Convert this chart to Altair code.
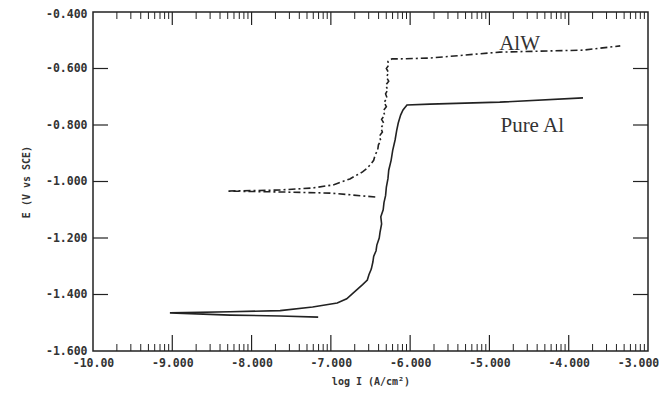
import math
import altair as alt
import pandas as pd

# ---------------- data ----------------
x_ticks = [-10, -9, -8, -7, -6, -5, -4, -3]
y_ticks = [-1.6, -1.4, -1.2, -1.0, -0.8, -0.6, -0.4]

# Pure Al (solid): cathodic cusp on the left, then rising anodic branch
al_logi = [-7.16, -7.64, -8.27, -9.03, -8.27, -7.64, -7.23,
           -6.92, -6.80, -6.72, -6.66, -6.60, -6.54, -6.52, -6.49, -6.47, -6.46,
           -6.43, -6.42, -6.39, -6.38, -6.36, -6.37, -6.34, -6.33, -6.31, -6.30,
           -6.28, -6.27, -6.24, -6.22, -6.19, -6.17, -6.15, -6.12, -6.09, -6.04,
           -5.75, -4.87, -3.82]
al_e = [-1.480, -1.476, -1.473, -1.465, -1.461, -1.457, -1.444,
        -1.430, -1.415, -1.395, -1.380, -1.365, -1.349, -1.330, -1.310, -1.285, -1.265,
        -1.245, -1.225, -1.200, -1.180, -1.150, -1.125, -1.100, -1.075, -1.050, -1.020,
        -0.990, -0.960, -0.925, -0.890, -0.853, -0.820, -0.793, -0.765, -0.747, -0.729,
        -0.726, -0.719, -0.704]

# AlW (dash-dot)
alw_logi = [-6.44, -6.72, -7.01, -7.64, -8.31, -7.64, -7.23, -6.97,
            -6.76, -6.66, -6.60, -6.55, -6.50, -6.46, -6.44, -6.41, -6.40, -6.37,
            -6.39, -6.35, -6.37, -6.33, -6.36, -6.32, -6.34, -6.30, -6.33, -6.29,
            -6.31, -6.28, -6.31, -6.27, -6.30, -6.27, -6.30, -6.27, -6.28, -6.23,
            -6.13, -5.75, -4.87, -3.82, -3.35]
alw_e = [-1.055, -1.048, -1.041, -1.037, -1.034, -1.030, -1.023, -1.012,
         -0.991, -0.975, -0.966, -0.955, -0.940, -0.925, -0.905, -0.890, -0.870, -0.855,
         -0.840, -0.825, -0.810, -0.795, -0.780, -0.765, -0.750, -0.735, -0.720, -0.705,
         -0.690, -0.675, -0.660, -0.645, -0.630, -0.615, -0.600, -0.588, -0.575, -0.566,
         -0.566, -0.563, -0.542, -0.535, -0.520]

labels = ["AlW", "Pure Al"]
label_logi = [-4.62, -4.46]
label_e = [-0.513, -0.804]

# ---------------- chart ----------------
W, H = 555, 339
INK = "#222222"
LAB = "#333333"
MONO = "DejaVu Sans Mono"

xscale = alt.Scale(domain=[-10, -3], nice=False, zero=False)
yscale = alt.Scale(domain=[-1.6, -0.4], nice=False, zero=False)

al_df = pd.DataFrame({"logI": al_logi, "E": al_e, "i": list(range(len(al_logi)))})
alw_df = pd.DataFrame({"logI": alw_logi, "E": alw_e, "i": list(range(len(alw_logi)))})
lab_df = pd.DataFrame({"t": labels, "logI": label_logi, "E": label_e})

minor_x = [d + math.log10(k) for d in range(-10, -3) for k in range(2, 10)]
major_x = x_ticks[1:-1]
major_y = y_ticks[1:-1]
minor_df = pd.DataFrame({"logI": minor_x})
majx_df = pd.DataFrame({"logI": major_x})
majy_df = pd.DataFrame({"E": major_y})

xaxis = alt.Axis(
    values=x_ticks,
    labelExpr="datum.value == -10 ? '-10.00' : '-' + format(abs(datum.value), '.3f')",
    ticks=False, domain=False, grid=False,
    labelFont=MONO, labelFontSize=11.5, labelFontWeight="bold", labelColor=LAB,
    labelPadding=6, labelFlush=False,
    labelOffset={"condition": {"test": "datum.value == -3", "value": -10}, "value": 0},
    title="log I (A/cm²)", titleFont=MONO, titleFontSize=10, titleFontWeight="bold",
    titleColor=LAB, titlePadding=8,
)
yaxis = alt.Axis(
    values=y_ticks,
    labelExpr="'-' + format(abs(datum.value), '.3f')",
    ticks=False, domain=False, grid=False,
    labelFont=MONO, labelFontSize=11.5, labelFontWeight="bold", labelColor=LAB,
    labelPadding=6, labelFlush=False,
    labelOffset={"condition": {"test": "datum.value == -0.4", "value": 2}, "value": 0},
    title="E (V vs SCE)", titleFont=MONO, titleFontSize=10, titleFontWeight="bold",
    titleColor=LAB, titlePadding=14,
)

X = alt.X("logI:Q", scale=xscale, axis=xaxis)
Y = alt.Y("E:Q", scale=yscale, axis=yaxis)

al_line = alt.Chart(al_df).mark_line(color=INK, strokeWidth=1.6).encode(
    x=X, y=Y, order="i:Q")
alw_line = alt.Chart(alw_df).mark_line(color=INK, strokeWidth=1.6, strokeDash=[7, 3, 2, 3]).encode(
    x=X, y=Y, order="i:Q")
texts = alt.Chart(lab_df).mark_text(font="Liberation Serif", fontSize=21, color="#333").encode(
    x=X, y=Y, text="t:N")

def xt(df, y0, y1, sw=1):
    return alt.Chart(df).mark_rule(color=INK, strokeWidth=sw).encode(
        x=X, y=alt.value(y0), y2=alt.value(y1))

def yt(df, x0, x1, sw=1):
    return alt.Chart(df).mark_rule(color=INK, strokeWidth=sw).encode(
        y=Y, x=alt.value(x0), x2=alt.value(x1))

tick_layers = [
    xt(minor_df, H, H - 7), xt(minor_df, 0, 7),
    xt(majx_df, H, H - 16, 1.2), xt(majx_df, 0, 13, 1.2),
    yt(majy_df, 0, 15, 1.2), yt(majy_df, W, W - 15, 1.2),
]

chart = alt.layer(al_line, alw_line, texts, *tick_layers).properties(
    width=W, height=H,
    padding={"left": 85, "top": 4, "right": 11, "bottom": 40},
    autosize=alt.AutoSizeParams(type="none"),
    background="white",
).configure_view(stroke=INK, strokeWidth=1.5)

chart.save("out.html", embed_options={"renderer": "svg", "actions": False})
